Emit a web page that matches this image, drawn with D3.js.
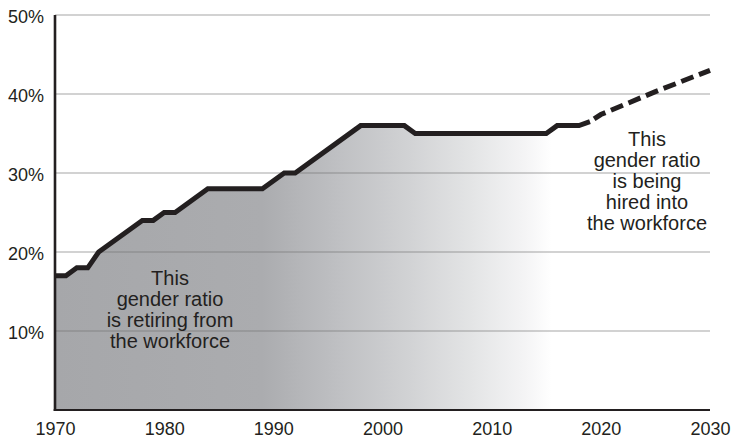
<!DOCTYPE html>
<html>
<head>
<meta charset="utf-8">
<script src="https://cdn.jsdelivr.net/npm/d3@7/dist/d3.min.js"></script>
<style>
  html, body { margin: 0; padding: 0; background: #fff; }
  svg { display: block; font-family: "Liberation Sans", Arial, Helvetica, sans-serif; }
</style>
</head>
<body>
<svg id="chart" width="732" height="441"></svg>
<script>
// Share of women in the workforce, recorded years (percent)
const years = [1970, 1971, 1972, 1973, 1974, 1978, 1979, 1980, 1981, 1984, 1989, 1991, 1992, 1998, 2002, 2003, 2015, 2016, 2018, 2019];
const shares = [17, 17, 18, 18, 20, 24, 24, 25, 25, 28, 28, 30, 30, 36, 36, 35, 35, 36, 36, 36.5];

// Projected share
const projYears = [2019, 2020, 2025, 2030];
const projShares = [36.5, 37.4, 40.3, 43];

// Axis ticks
const xTicks = [1970, 1980, 1990, 2000, 2010, 2020, 2030];
const yTicks = [10, 20, 30, 40, 50];

// Annotation lines
const leftNote = ["This", "gender ratio", "is retiring from", "the workforce"];
const rightNote = ["This", "gender ratio", "is being", "hired into", "the workforce"];

const svg = d3.select("#chart");
const ink = "#231f20";

const x = d3.scaleLinear().domain([1970, 2030]).range([55, 710]);
const y = d3.scaleLinear().domain([0, 50]).range([410, 15]);

const actual = years.map((yr, i) => ({ yr, v: shares[i] }));
const projected = projYears.map((yr, i) => ({ yr, v: projShares[i] }));

// Fill gradient: flat grey on the left, fading to white by the mid-2010s
const grad = svg.append("defs").append("linearGradient")
  .attr("id", "retireFade")
  .attr("gradientUnits", "userSpaceOnUse")
  .attr("x1", x(1970)).attr("x2", x(2030))
  .attr("y1", 0).attr("y2", 0);
[
  [1970, "#a6a7aa"],
  [1989, "#abacaf"],
  [1996, "#bfc0c3"],
  [2002, "#d0d1d3"],
  [2008, "#e3e4e5"],
  [2013, "#f4f4f5"],
  [2015.5, "#ffffff"],
  [2030, "#ffffff"]
].forEach(([yr, c]) => {
  grad.append("stop")
    .attr("offset", (x(yr) - x(1970)) / (x(2030) - x(1970)))
    .attr("stop-color", c);
});

const area = d3.area()
  .x(d => x(d.yr))
  .y0(y(0))
  .y1(d => y(d.v));

svg.append("path")
  .datum(actual)
  .attr("d", area)
  .attr("fill", "url(#retireFade)");

// Horizontal gridlines
svg.append("g")
  .selectAll("line")
  .data(yTicks)
  .join("line")
  .attr("x1", x(1970)).attr("x2", x(2030))
  .attr("y1", d => y(d)).attr("y2", d => y(d))
  .attr("stroke", "#6f6f70")
  .attr("stroke-opacity", 0.42)
  .attr("stroke-width", 1.3);

// Y axis labels
const yAxis = d3.axisLeft(y).tickValues(yTicks).tickFormat(d => d + "%").tickSize(0).tickPadding(11);
svg.append("g")
  .attr("transform", `translate(${x(1970)},0)`)
  .call(yAxis)
  .call(g => g.select(".domain").remove())
  .call(g => g.selectAll("text")
    .attr("fill", ink)
    .attr("font-size", 18)
    .attr("font-family", "Liberation Sans, Arial, sans-serif")
    .attr("dy", "0.42em"));

// X axis labels
const xAxis = d3.axisBottom(x).tickValues(xTicks).tickFormat(d3.format("d")).tickSize(0).tickPadding(12);
svg.append("g")
  .attr("transform", `translate(0,${y(0)})`)
  .call(xAxis)
  .call(g => g.select(".domain").remove())
  .call(g => g.selectAll("text")
    .attr("fill", ink)
    .attr("font-size", 18)
    .attr("font-family", "Liberation Sans, Arial, sans-serif"));

// Axis lines
svg.append("line")
  .attr("x1", x(1970)).attr("x2", x(1970))
  .attr("y1", y(50)).attr("y2", y(0) + 1)
  .attr("stroke", ink).attr("stroke-width", 2.6);
svg.append("line")
  .attr("x1", x(1970) - 1.3).attr("x2", x(2030))
  .attr("y1", y(0)).attr("y2", y(0))
  .attr("stroke", ink).attr("stroke-width", 2.2);

const line = d3.line().x(d => x(d.yr)).y(d => y(d.v));

// Recorded share
svg.append("path")
  .datum(actual)
  .attr("d", line)
  .attr("fill", "none")
  .attr("stroke", ink)
  .attr("stroke-width", 5)
  .attr("stroke-linejoin", "miter");

// Projection
svg.append("path")
  .datum(projected)
  .attr("d", line)
  .attr("fill", "none")
  .attr("stroke", ink)
  .attr("stroke-width", 5)
  .attr("stroke-dasharray", "13,6")
  .attr("stroke-dashoffset", -5);

// Annotations
function note(lines, cx, baseline, step) {
  svg.append("text")
    .attr("text-anchor", "middle")
    .attr("fill", ink)
    .attr("font-size", 20)
    .attr("font-family", "Liberation Sans, Arial, sans-serif")
    .selectAll("tspan")
    .data(lines)
    .join("tspan")
    .attr("x", cx)
    .attr("y", (d, i) => baseline + i * step)
    .text(d => d);
}
note(leftNote, 170, 284.5, 21.3);
note(rightNote, 647, 146, 21.1);
</script>
</body>
</html>
